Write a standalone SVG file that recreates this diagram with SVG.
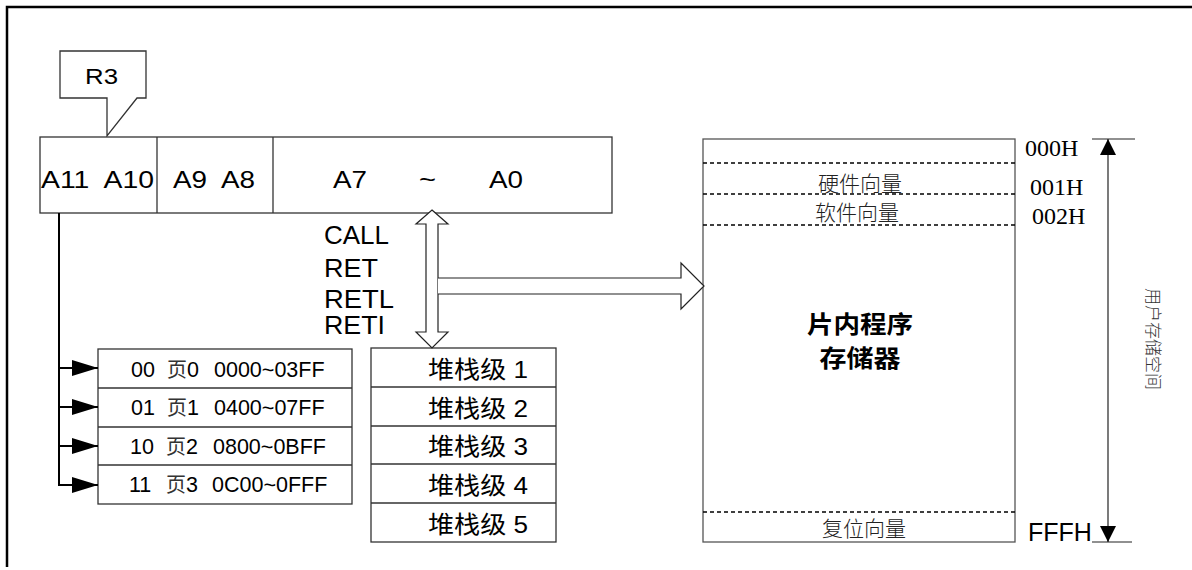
<svg xmlns="http://www.w3.org/2000/svg" width="1192" height="570" viewBox="0 0 1192 570">
  <defs>
    <style>
      .bg { fill: #ffffff; }
      .frame { fill: none; stroke: #000; stroke-width: 2.5; }
      .box { fill: #fff; stroke: #333; stroke-width: 1.3; }
      .line { fill: none; stroke: #333; stroke-width: 1.3; }
      .dash { fill: none; stroke: #000; stroke-width: 1.4; stroke-dasharray: 4 3; }
      .bus { fill: none; stroke: #000; stroke-width: 2; }
      .hollow { fill: #fff; stroke: #222; stroke-width: 1.2; }
      .thin { fill: none; stroke: #222; stroke-width: 1.2; }
      .sans { font-family: "Liberation Sans", Arial, "Noto Sans CJK SC", sans-serif; fill: #000; }
      .serif { font-family: "Liberation Serif", "Noto Sans CJK SC", serif; fill: #000; }
      .cjk { font-family: "Noto Sans CJK SC", sans-serif; fill: #222; }
      .lbl { font-size: 24px; }
      .ins { font-size: 25px; }
      .pg { font-size: 21.5px; }
      .pgc { font-family: "Noto Sans CJK SC", sans-serif; font-size: 20px; fill: #333; }
      .vec { font-size: 21px; font-weight: 300; }
      .addr { font-size: 24px; }
    </style>
    <marker id="solidHead" viewBox="0 0 26 16" refX="26" refY="8" markerWidth="26" markerHeight="16" markerUnits="userSpaceOnUse" orient="auto">
      <path d="M0,0 L26,8 L0,16 Z" fill="#000"/>
    </marker>
    <marker id="dimHead" viewBox="0 0 16 16" refX="16" refY="8" markerWidth="16" markerHeight="16" markerUnits="userSpaceOnUse" orient="auto">
      <path d="M0,0 L16,8 L0,16 Z" fill="#000"/>
    </marker>
  </defs>

  <rect class="bg" x="0" y="0" width="1192" height="570"/>
  <!-- outer frame -->
  <path class="frame" d="M7,567 V7 H1192"/>

  <!-- R3 callout -->
  <g id="r3">
    <path class="box" d="M60,51 H146 V98 H137 L107,136 V98 H60 Z"/>
    <text class="sans" x="85" y="84" font-size="22" textLength="33" lengthAdjust="spacingAndGlyphs">R3</text>
  </g>

  <!-- program counter register -->
  <g id="pc">
    <rect class="box" x="40" y="137" width="572" height="76"/>
    <line class="line" x1="157" y1="137" x2="157" y2="213"/>
    <line class="line" x1="273" y1="137" x2="273" y2="213"/>
    <text class="sans lbl" x="41" y="188" textLength="113" lengthAdjust="spacingAndGlyphs" xml:space="preserve">A11  A10</text>
    <text class="sans lbl" x="173" y="188" textLength="82" lengthAdjust="spacingAndGlyphs" xml:space="preserve">A9  A8</text>
    <text class="sans lbl" x="333" y="188" textLength="34" lengthAdjust="spacingAndGlyphs">A7</text>
    <text class="sans lbl" x="419" y="188" textLength="17" lengthAdjust="spacingAndGlyphs">~</text>
    <text class="sans lbl" x="489" y="188" textLength="34" lengthAdjust="spacingAndGlyphs">A0</text>
  </g>

  <!-- instruction labels -->
  <g id="instructions">
    <text class="sans ins" x="324" y="244" textLength="65" lengthAdjust="spacingAndGlyphs">CALL</text>
    <text class="sans ins" x="324" y="277" textLength="54" lengthAdjust="spacingAndGlyphs">RET</text>
    <text class="sans ins" x="324" y="308" textLength="70" lengthAdjust="spacingAndGlyphs">RETL</text>
    <text class="sans ins" x="324" y="334" textLength="61" lengthAdjust="spacingAndGlyphs">RETI</text>
  </g>

  <!-- page table -->
  <g id="pages">
    <rect class="box" x="98" y="349" width="254" height="155"/>
    <line class="line" x1="98" y1="388" x2="352" y2="388"/>
    <line class="line" x1="98" y1="427" x2="352" y2="427"/>
    <line class="line" x1="98" y1="465" x2="352" y2="465"/>
    <text class="sans pg" y="377"><tspan x="131">00</tspan><tspan class="pgc" x="167">页</tspan><tspan>0</tspan><tspan x="214">0000~03FF</tspan></text>
    <text class="sans pg" y="415"><tspan x="131">01</tspan><tspan class="pgc" x="167">页</tspan><tspan>1</tspan><tspan x="214">0400~07FF</tspan></text>
    <text class="sans pg" y="454"><tspan x="130">10</tspan><tspan class="pgc" x="166">页</tspan><tspan>2</tspan><tspan x="213">0800~0BFF</tspan></text>
    <text class="sans pg" y="492"><tspan x="129">11</tspan><tspan class="pgc" x="166">页</tspan><tspan>3</tspan><tspan x="212">0C00~0FFF</tspan></text>
  </g>

  <!-- stack levels -->
  <g id="stack">
    <rect class="box" x="371" y="348" width="185" height="194"/>
    <line class="line" x1="371" y1="387" x2="556" y2="387"/>
    <line class="line" x1="371" y1="426" x2="556" y2="426"/>
    <line class="line" x1="371" y1="464" x2="556" y2="464"/>
    <line class="line" x1="371" y1="503" x2="556" y2="503"/>
    <text class="sans" font-size="24" x="428" y="378" textLength="100" lengthAdjust="spacingAndGlyphs">堆栈级 1</text>
    <text class="sans" font-size="24" x="428" y="417" textLength="100" lengthAdjust="spacingAndGlyphs">堆栈级 2</text>
    <text class="sans" font-size="24" x="428" y="455" textLength="100" lengthAdjust="spacingAndGlyphs">堆栈级 3</text>
    <text class="sans" font-size="24" x="428" y="494" textLength="100" lengthAdjust="spacingAndGlyphs">堆栈级 4</text>
    <text class="sans" font-size="24" x="428" y="533" textLength="100" lengthAdjust="spacingAndGlyphs">堆栈级 5</text>
  </g>

  <!-- on-chip program memory -->
  <g id="memory">
    <rect class="box" x="703" y="139" width="312" height="403" style="stroke:#555"/>
    <line class="dash" x1="703" y1="163" x2="1015" y2="163"/>
    <line class="dash" x1="703" y1="194" x2="1015" y2="194"/>
    <line class="dash" x1="703" y1="225" x2="1015" y2="225"/>
    <line class="dash" x1="703" y1="512" x2="1015" y2="512"/>
    <text class="cjk vec" x="860" y="191" text-anchor="middle">硬件向量</text>
    <text class="cjk vec" x="857" y="220" text-anchor="middle">软件向量</text>
    <text class="cjk" x="860" y="333" font-size="24" font-weight="bold" text-anchor="middle" textLength="106" lengthAdjust="spacingAndGlyphs" style="fill:#000">片内程序</text>
    <text class="cjk" x="860" y="367" font-size="24" font-weight="bold" text-anchor="middle" textLength="81" lengthAdjust="spacingAndGlyphs" style="fill:#000">存储器</text>
    <text class="cjk vec" x="864" y="536" text-anchor="middle">复位向量</text>
  </g>

  <!-- address labels -->
  <g id="addresses">
    <text class="serif addr" x="1025" y="156">000H</text>
    <text class="serif addr" x="1030" y="195">001H</text>
    <text class="serif addr" x="1032" y="224">002H</text>
    <text class="sans" x="1028" y="541" font-size="25">FFFH</text>
  </g>

  <!-- user space dimension -->
  <g id="user-space">
    <line class="thin" x1="1092" y1="139" x2="1135" y2="139"/>
    <line class="thin" x1="1092" y1="542" x2="1132" y2="542"/>
    <line class="thin" x1="1108" y1="340" x2="1108" y2="139" marker-end="url(#dimHead)"/>
    <line class="thin" x1="1108" y1="340" x2="1108" y2="542" marker-end="url(#dimHead)"/>
    <text class="cjk" font-size="17" font-weight="300" transform="translate(1154,339) rotate(90)" text-anchor="middle" dominant-baseline="central" style="fill:#333">用户存储空间</text>
  </g>

  <!-- connectors -->
  <g id="connectors">
    <path class="bus" d="M59,213 V485"/>
    <line class="bus" x1="59" y1="368" x2="98" y2="368" marker-end="url(#solidHead)"/>
    <line class="bus" x1="59" y1="407" x2="98" y2="407" marker-end="url(#solidHead)"/>
    <line class="bus" x1="59" y1="446" x2="98" y2="446" marker-end="url(#solidHead)"/>
    <line class="bus" x1="58" y1="485" x2="98" y2="485" marker-end="url(#solidHead)"/>
    <path class="hollow" d="M432,210 L448,224 H438 V332 H448 L432,348 L416,332 H426 V224 H416 Z"/>
    <path class="hollow" d="M438,278 H681 V263 L704,286 L681,309 V294 H438"/>
  </g>
</svg>
